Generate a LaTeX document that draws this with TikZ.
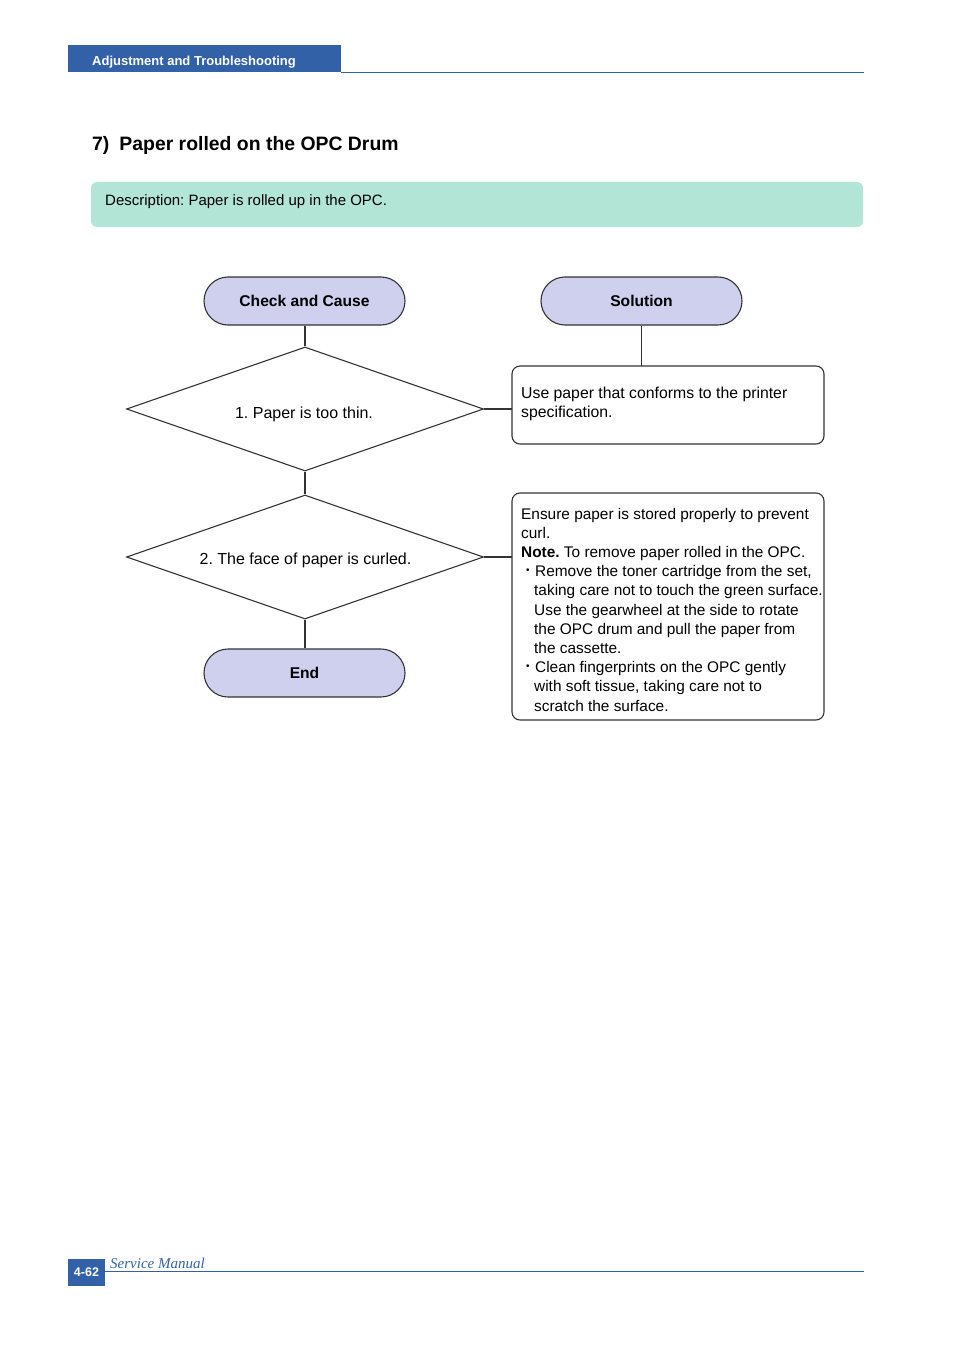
\documentclass[tikz,border=0pt]{standalone}
\usepackage{fontspec}
\setmainfont{Liberation Sans}
\newfontfamily\serifit{Liberation Serif}
\usetikzlibrary{shapes.geometric}
\frenchspacing
\definecolor{hdrblue}{HTML}{3361A8}
\definecolor{descgreen}{HTML}{B2E5D5}
\definecolor{lav}{HTML}{CFCFEE}
\definecolor{ln}{HTML}{333333}
\newcommand{\bul}{\makebox[14pt][l]{\hspace{5pt}\raisebox{3pt}{\fontsize{10}{10}\selectfont•}}}
\newcommand{\ind}{\hspace*{13pt}}
\tikzset{
  terminal/.style={draw=ln, line width=1.1pt, fill=lav, rounded corners=24pt,
    minimum width=201pt, minimum height=48pt, inner sep=0pt,
    font=\fontsize{15.6}{18}\selectfont\bfseries},
  decision/.style={draw=ln, line width=1.1pt, diamond, minimum width=357pt,
    minimum height=124pt, inner sep=0pt},
  dtext/.style={anchor=base, inner sep=0pt, font=\fontsize{16}{18}\selectfont},
  solbox/.style={draw=ln, line width=1.1pt, rounded corners=8pt, inner sep=0pt},
  conn/.style={draw=ln, line width=1.1pt},
  body/.style={anchor=base west, inner sep=0pt}
}
\begin{document}
\begin{tikzpicture}[x=1pt,y=-1pt]
\useasboundingbox (0,0) rectangle (954,1351);
% header
\fill[hdrblue] (68,45) rectangle (341,72);
\draw[hdrblue, line width=1.2pt] (341,72.4) -- (864,72.4);
\node[anchor=base west, inner sep=0pt, text=white, font=\fontsize{13}{15}\selectfont\bfseries] (hdr) at (92,66) {Adjustment and Troubleshooting};
% title
\node[anchor=base west, inner sep=0pt, font=\fontsize{19.4}{22}\selectfont\bfseries] (title) at (92,151) {7)\hspace{10pt}Paper rolled on the OPC Drum};
% description
\fill[descgreen, rounded corners=6pt] (91,182) rectangle (863,227);
\node[anchor=base west, inner sep=0pt, font=\fontsize{15}{18}\selectfont] (desc) at (105,205) {Description: Paper is rolled up in the OPC.};
% flowchart
\node[terminal] (cc) at (304.5,301) {Check and Cause};
\node[terminal] (sol) at (641.5,301) {Solution};
\node[decision] (d1) at (305,409) {};
\node[decision] (d2) at (305,557) {};
\node[terminal] (end) at (304.5,673) {End};
\node[dtext] (t1) at (304,418) {1. Paper is too thin.};
\node[dtext] (t2) at (305.5,564) {2. The face of paper is curled.};
\path (512,366) coordinate (b1nw) (824,444) coordinate (b1se);
\draw[solbox] (b1nw) rectangle (b1se);
\node[inner sep=0pt, minimum width=312pt, minimum height=78pt] (b1) at (668,405) {};
\path (512,493) coordinate (b2nw) (824,720) coordinate (b2se);
\draw[solbox] (b2nw) rectangle (b2se);
\node[inner sep=0pt, minimum width=312pt, minimum height=227pt] (b2) at (668,606.5) {};
\node[body, font=\fontsize{15.8}{19.2}\selectfont] (b1txt) at (521,398) {\vtop{\baselineskip=19.2pt
  \hbox{Use paper that conforms to the printer}
  \hbox{specification.}}};
\node[body, font=\fontsize{15.4}{19.2}\selectfont] (b2txt) at (521,519) {\vtop{\baselineskip=19.2pt
  \hbox{Ensure paper is stored properly to prevent}
  \hbox{curl.}
  \hbox{\textbf{Note.} To remove paper rolled in the OPC.}
  \hbox{\bul Remove the toner cartridge from the set,}
  \hbox{\ind taking care not to touch the green surface.}
  \hbox{\ind Use the gearwheel at the side to rotate}
  \hbox{\ind the OPC drum and pull the paper from}
  \hbox{\ind the cassette.}
  \hbox{\bul Clean fingerprints on the OPC gently}
  \hbox{\ind with soft tissue, taking care not to}
  \hbox{\ind scratch the surface.}}};
% connectors
\draw[conn] (d1.north |- cc.south) -- (d1.north);
\draw[conn] (sol.south) -- (sol.south |- b1.north);
\draw[conn] (d1.east) -- (b1.west |- d1.east);
\draw[conn] (d1.south) -- (d2.north);
\draw[conn] (d2.east) -- (b2.west |- d2.east);
\draw[conn] (d2.south) -- (d2.south |- end.north);
% footer
\fill[hdrblue] (68,1259) rectangle (105,1286);
\node[text=white, inner sep=0pt, font=\fontsize{12.5}{14}\selectfont\bfseries] (pg) at (86.5,1272) {4-62};
\draw[hdrblue, line width=1.2pt] (105,1271.5) -- (864,1271.5);
\node[anchor=base west, inner sep=0pt, text=hdrblue, font=\fontsize{15}{16}\selectfont\serifit\itshape] (sm) at (110,1268) {Service Manual};
\end{tikzpicture}
\end{document}
